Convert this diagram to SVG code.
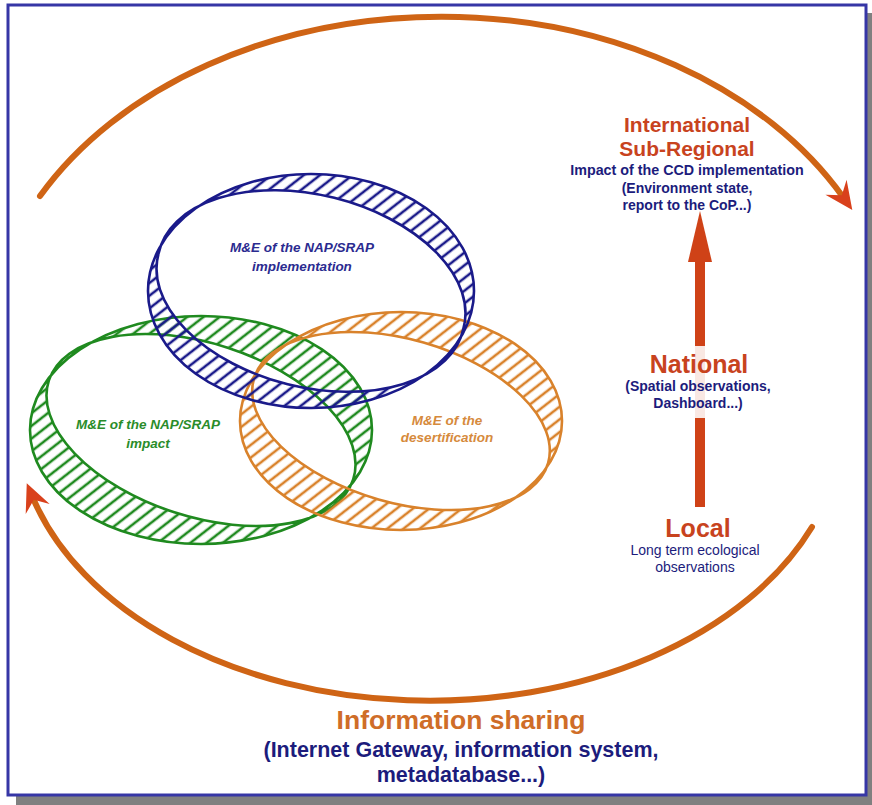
<svg xmlns="http://www.w3.org/2000/svg" width="872" height="805" viewBox="0 0 872 805">
  <style>
    .t { font-family: "Liberation Sans", Arial, sans-serif; font-weight: bold; text-anchor: middle; }
    .reg { font-weight: normal; }
    .navy { fill: #1c1c7c; }
    .red { fill: #c8431e; }
    .ring-lbl { font-style: italic; font-size: 13.5px; }
    .cycle { fill: none; stroke: #cf6415; stroke-width: 6; stroke-linecap: round; }
  </style>
  <defs>
    <!-- diagonal hatching for the three rings -->
    <pattern id="hatch-blue" patternUnits="userSpaceOnUse" width="10" height="10" patternTransform="rotate(52)">
      <line x1="5" y1="-1" x2="5" y2="11" stroke="#1a1a8a" stroke-width="2.6"/>
    </pattern>
    <pattern id="hatch-green" patternUnits="userSpaceOnUse" width="10" height="10" patternTransform="rotate(52)">
      <line x1="5" y1="-1" x2="5" y2="11" stroke="#1f8a1f" stroke-width="2.6"/>
    </pattern>
    <pattern id="hatch-orange" patternUnits="userSpaceOnUse" width="10" height="10" patternTransform="rotate(52)">
      <line x1="5" y1="-1" x2="5" y2="11" stroke="#d9822b" stroke-width="2.6"/>
    </pattern>
    <marker id="cycle-head" viewBox="-28 -14 30 28" refX="-16" refY="0" markerWidth="30" markerHeight="28" markerUnits="userSpaceOnUse" orient="auto" overflow="visible">
      <path d="M0 0 L-28 -13 L-18 0 L-28 13 Z" fill="#d9411c"/>
    </marker>
  </defs>

  <!-- page with drop shadow -->
  <g id="frame">
    <rect x="16" y="13" width="856" height="792" fill="#808080"/>
    <rect x="8" y="5" width="858" height="790" fill="#ffffff" stroke="#3636a6" stroke-width="3"/>
  </g>

  <!-- information-sharing cycle and scale arrow -->
  <g id="connectors">
    <path class="cycle" d="M 40 196 A 456 342 0 0 1 843 197" marker-end="url(#cycle-head)"/>
    <path class="cycle" d="M 812 527 A 413 280 0 0 1 33 498" marker-end="url(#cycle-head)"/>
    <g id="scale-arrow" fill="#cf4217">
      <polygon points="700,211 688,262 712,262"/>
      <rect x="695" y="258" width="10" height="88"/>
      <rect x="695" y="346" width="10" height="72" opacity="0.12"/>
      <rect x="695" y="418" width="10" height="89"/>
    </g>
  </g>

  <!-- hatched rings: outer ellipse minus a flatter, tilted inner ellipse -->
  <g id="ring-impact">
    <path fill="url(#hatch-green)" fill-rule="evenodd" stroke="#1f8a1f" stroke-width="2.6"
      d="M 30 430 A 171 114 0 1 0 372 430 A 171 114 0 1 0 30 430 Z
         M 48.8 380.6 A 160 86.5 18 1 0 353.2 479.4 A 160 86.5 18 1 0 48.8 380.6 Z"/>
    <text class="t ring-lbl" fill="#2a8c2a" x="148" y="429">M&amp;E of the NAP/SRAP</text>
    <text class="t ring-lbl" fill="#2a8c2a" x="148" y="448">impact</text>
  </g>

  <g id="ring-desertification">
    <path fill="url(#hatch-orange)" fill-rule="evenodd" stroke="#d9822b" stroke-width="2.6"
      d="M 240 421 A 161 109 0 1 0 562 421 A 161 109 0 1 0 240 421 Z
         M 253.9 378.8 A 153 81.5 16 1 0 548.1 463.2 A 153 81.5 16 1 0 253.9 378.8 Z"/>
    <text class="t ring-lbl" fill="#d68a3c" x="447" y="425">M&amp;E of the</text>
    <text class="t ring-lbl" fill="#d68a3c" x="447" y="442">desertification</text>
  </g>

  <g id="ring-implementation">
    <path fill="url(#hatch-blue)" fill-rule="evenodd" stroke="#1a1a8a" stroke-width="2.6"
      d="M 148 291 A 163 117 0 1 0 474 291 A 163 117 0 1 0 148 291 Z
         M 158.7 253 A 157 94.2 14 1 0 463.3 329 A 157 94.2 14 1 0 158.7 253 Z"/>
    <text class="t ring-lbl" fill="#2b2b90" x="302" y="252">M&amp;E of the NAP/SRAP</text>
    <text class="t ring-lbl" fill="#2b2b90" x="302" y="271">implementation</text>
  </g>

  <!-- scale levels -->
  <g id="level-international">
    <text class="t red" x="687" y="132" font-size="21">International</text>
    <text class="t red" x="687" y="156" font-size="21">Sub-Regional</text>
    <text class="t navy" x="687" y="175" font-size="14.3">Impact of the CCD implementation</text>
    <text class="t navy" x="687" y="193" font-size="14">(Environment state,</text>
    <text class="t navy" x="687" y="210" font-size="14">report to the CoP...)</text>
  </g>

  <g id="level-national">
    <text class="t red" x="699" y="373" font-size="25">National</text>
    <text class="t navy" x="698" y="391" font-size="14">(Spatial observations,</text>
    <text class="t navy" x="698" y="408" font-size="14">Dashboard...)</text>
  </g>

  <g id="level-local">
    <text class="t red" x="698" y="537" font-size="25">Local</text>
    <text class="t navy reg" x="695" y="555" font-size="14">Long term ecological</text>
    <text class="t navy reg" x="695" y="572" font-size="14">observations</text>
  </g>

  <g id="information-sharing">
    <text class="t" fill="#cf6d28" x="461" y="729" font-size="26.5">Information sharing</text>
    <text class="t navy" x="461" y="757" font-size="21.5">(Internet Gateway, information system,</text>
    <text class="t navy" x="461" y="782" font-size="21.5">metadatabase...)</text>
  </g>
</svg>
